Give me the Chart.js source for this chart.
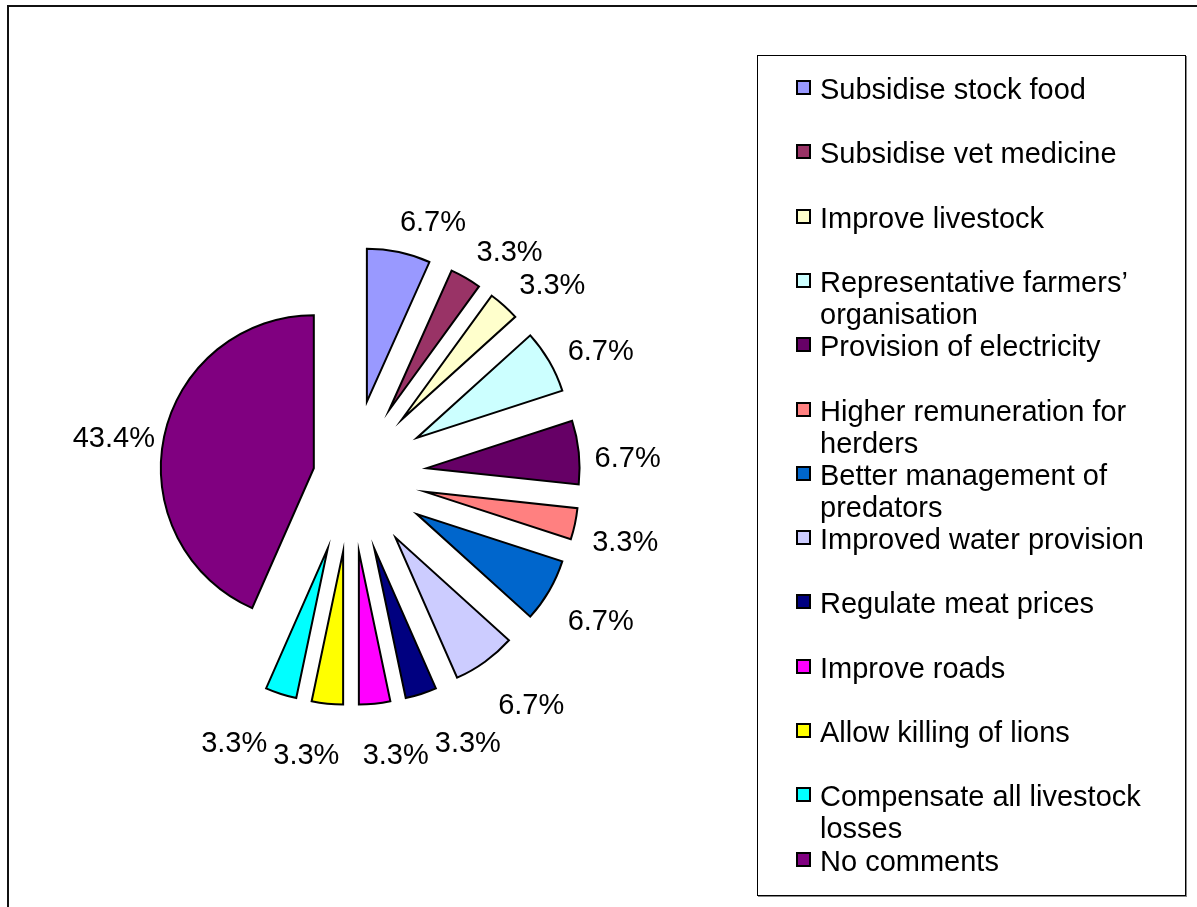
<!DOCTYPE html>
<html>
<head>
<meta charset="utf-8">
<title>Suggestions by farmers</title>
<script src="https://cdn.jsdelivr.net/npm/chart.js@4.4.1/dist/chart.umd.min.js"></script>
<style>
  body { margin: 0; background: #fff; overflow: hidden; font-family: "Liberation Sans", Arial, sans-serif; }
  #frame { position: absolute; left: 7px; top: 5px; width: 1300px; height: 1000px; border: 2px solid #111; }
  #wrap { position: absolute; left: 0; top: 0; width: 1197px; height: 907px; }
  #legend { position: absolute; left: 757px; top: 55px; width: 427px; height: 839px; border: 1px solid #000; box-shadow: 1px 1px 0 #888; background: #fff; }
  .item { position: absolute; left: 0; width: 100%; }
  .item .box { position: absolute; left: 38px; top: 7px; width: 11px; height: 11px; border: 2px solid #000; }
  .item .txt { position: absolute; left: 62px; top: 0; width: 350px; font-size: 29px; line-height: 32px; color: #000; white-space: normal; }
</style>
</head>
<body>
<div id="frame"></div>
<div id="wrap"><canvas id="myPieChart"></canvas></div>
<div id="legend"></div>

<script>
// values (percent of respondents)

var categories = [
  "Subsidise stock food",
  "Subsidise vet medicine",
  "Improve livestock",
  "Representative farmers\u2019 organisation",
  "Provision of electricity",
  "Higher remuneration for herders",
  "Better management of predators",
  "Improved water provision",
  "Regulate meat prices",
  "Improve roads",
  "Allow killing of lions",
  "Compensate all livestock losses",
  "No comments"
];

var shares = [6.7, 3.3, 3.3, 6.7, 6.7, 3.3, 6.7, 6.7, 3.3, 3.3, 3.3, 3.3, 43.4];

var colours = [
  "#9999FF", "#993366", "#FFFFCC", "#CCFFFF", "#660066", "#FF8080",
  "#0066CC", "#CCCCFF", "#000080", "#FF00FF", "#FFFF00", "#00FFFF", "#800080"
];

// pull every slice out from the centre, excel style
var explodePlugin = {
  id: 'explode',
  afterDatasetsUpdate: function (chart, args, opts) {
    var meta = chart.getDatasetMeta(0);
    meta.data.forEach(function (arc, i) {
      var mid = (arc.startAngle + arc.endAngle) / 2;
      var d = opts.amount[i] || 0;
      arc.x += Math.cos(mid) * d;
      arc.y += Math.sin(mid) * d;
    });
  }
};

// percentage labels outside each slice, nudged sideways where they collide
var pctLabels = {
  id: 'pctLabels',
  afterDatasetsDraw: function (chart, args, opts) {
    var ctx = chart.ctx;
    var meta = chart.getDatasetMeta(0);
    ctx.save();
    ctx.font = opts.font;
    ctx.fillStyle = '#000';
    ctx.textAlign = 'center';
    ctx.textBaseline = 'middle';

    var labels = meta.data.map(function (arc, i) {
      var mid = (arc.startAngle + arc.endAngle) / 2;
      var r = arc.outerRadius + opts.gap;
      var cx = Math.cos(mid), sy = Math.sin(mid);
      var push = (opts.minPush + opts.push * Math.abs(sy)) * (cx < 0 ? -1 : 1);
      var v = chart.data.datasets[0].data[i];
      var text = v.toFixed(1) + '%';
      return {
        text: text,
        x: arc.x + cx * r + push,
        y: arc.y + sy * r + opts.dy,
        w: ctx.measureText(text).width,
        h: opts.boxHeight
      };
    });

    for (var it = 0; it < 80; it++) {
      for (var a = 0; a < labels.length; a++) {
        for (var b = a + 1; b < labels.length; b++) {
          var A = labels[a], B = labels[b];
          var ox = (A.w + B.w) / 2 + opts.pad - Math.abs(A.x - B.x);
          var oy = (A.h + B.h) / 2 - Math.abs(A.y - B.y);
          if (ox > 0 && oy > 0) {
            var s = A.x < B.x ? -1 : 1;
            A.x += s * ox / 2;
            B.x -= s * ox / 2;
          }
        }
      }
    }

    labels.forEach(function (l) { ctx.fillText(l.text, l.x, l.y); });
    ctx.restore();
  }
};

// legend box on the right, built from the chart's own legend items
var htmlLegend = {
  id: 'htmlLegend',
  afterUpdate: function (chart, args, opts) {
    var box = document.getElementById(opts.containerID);
    box.innerHTML = '';
    var items = chart.options.plugins.legend.labels.generateLabels(chart);
    items.forEach(function (item, i) {
      var row = document.createElement('div');
      row.className = 'item';
      row.style.top = (opts.firstTop + i * opts.pitch) + 'px';
      var sw = document.createElement('span');
      sw.className = 'box';
      sw.style.background = item.fillStyle;
      var tx = document.createElement('div');
      tx.className = 'txt';
      tx.textContent = item.text;
      row.appendChild(sw);
      row.appendChild(tx);
      box.appendChild(row);
    });
  }
};

var canvasPie = document.getElementById("myPieChart");
var myPieChart = new Chart(canvasPie, {
  type: 'pie',
  data: {
    labels: categories,
    datasets: [
      {
        data: shares,
        backgroundColor: colours,
        borderColor: "#000",
        borderWidth: 2,
        borderJoinStyle: "miter"
      }
    ]
  },
  options: {
    responsive: true,
    maintainAspectRatio: false,
    animation: false,
    events: [],
    radius: 153,
    layout: { padding: { left: 51, right: 546, top: 96, bottom: 51 } },
    plugins: {
      legend: { display: false },
      tooltip: { enabled: false },
      explode: { amount: [76, 76, 76, 76, 76, 76, 76, 76, 76, 76, 76, 76, 38] },
      pctLabels: { font: '29px "Liberation Sans", Arial, sans-serif', gap: 41, minPush: 6, push: 20, dy: 11, pad: 6, boxHeight: 26 },
      htmlLegend: { containerID: 'legend', firstTop: 17, pitch: 64.3 }
    }
  },
  plugins: [explodePlugin, pctLabels, htmlLegend]
});
</script>
</body>
</html>
